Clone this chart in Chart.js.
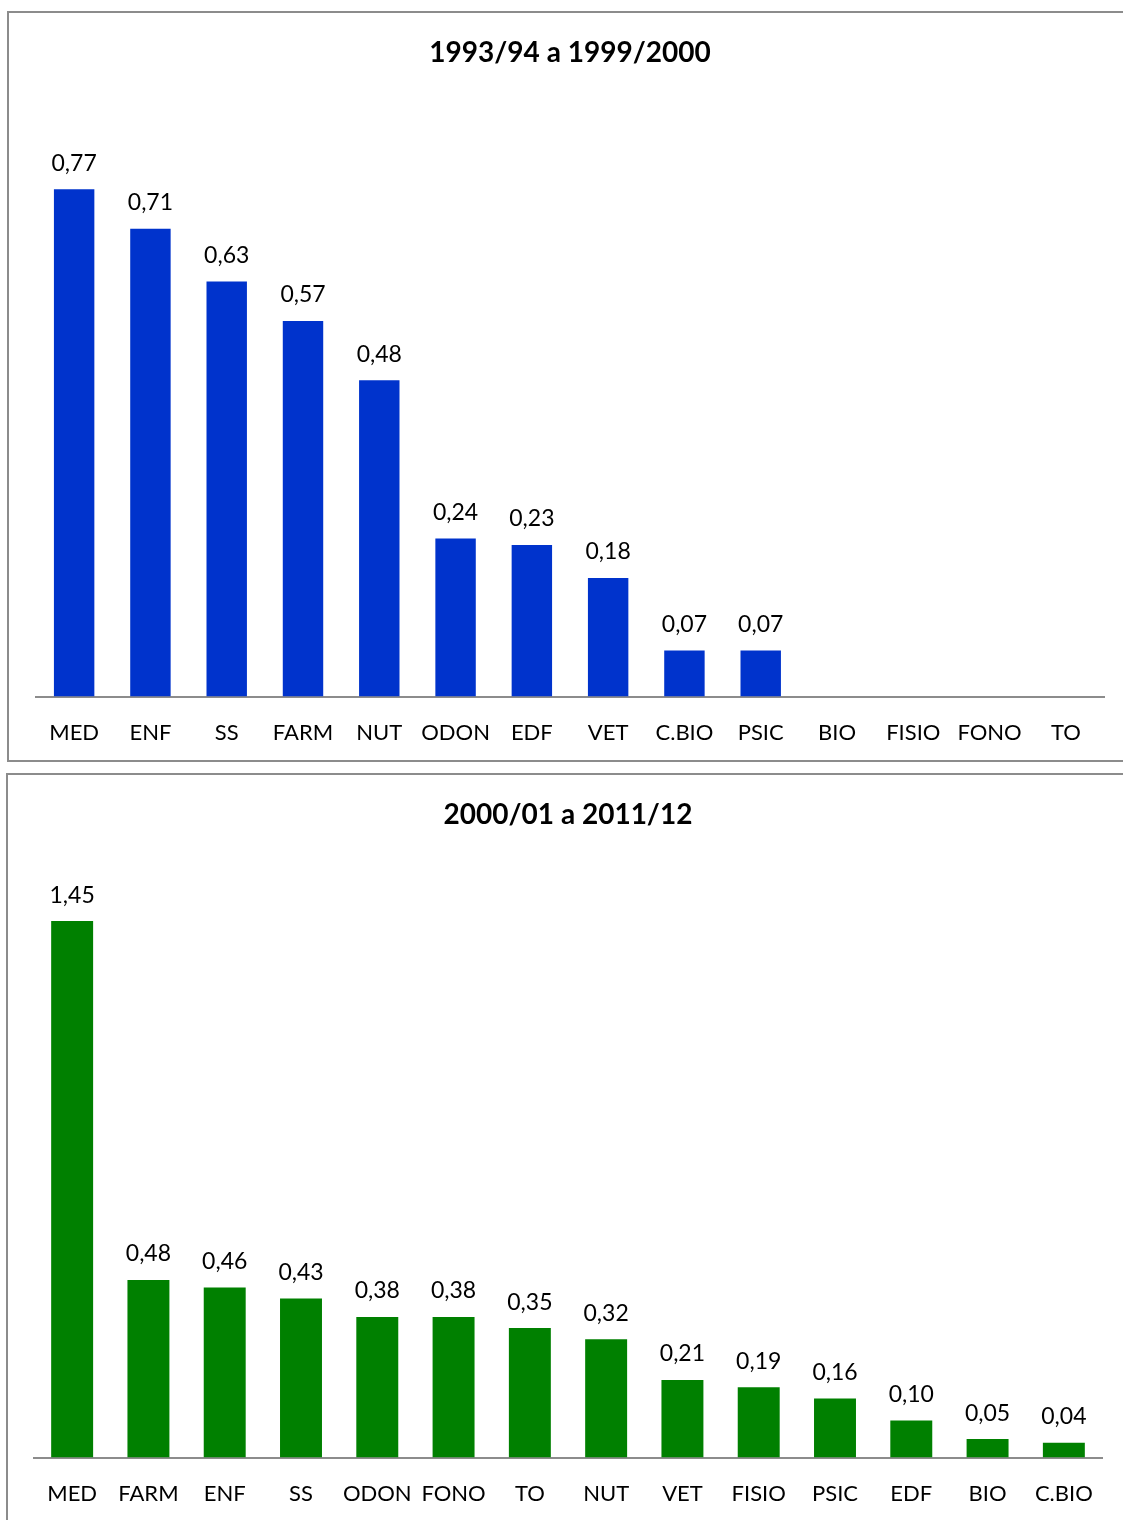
<!DOCTYPE html>
<html>
<head>
<meta charset="utf-8">
<script src="https://cdn.jsdelivr.net/npm/chart.js@4.4.0/dist/chart.umd.min.js"></script>
<style>
    html, body { margin: 0; padding: 0; background: #fff; overflow: hidden; width: 1123px; height: 1520px; }
    .panel { position: absolute; border: 2px solid #8c8c8c; background: #fff; overflow: hidden; }
    #panel-top { left: 7px; top: 11px; width: 1122px; height: 747px; }
    #panel-bottom { left: 6px; top: 773px; width: 1120px; height: 760px; }
    canvas { display: block; }
</style>
</head>
<body>
<div class="panel" id="panel-top"><canvas id="chartTop" width="1122" height="756"></canvas></div>
<div class="panel" id="panel-bottom"><canvas id="chartBottom" width="1120" height="755"></canvas></div>

<script>
// --- DATA ---
const topTitle = '1993/94 a 1999/2000';
const topCategories = ['MED', 'ENF', 'SS', 'FARM', 'NUT', 'ODON', 'EDF', 'VET', 'C.BIO', 'PSIC', 'BIO', 'FISIO', 'FONO', 'TO'];
const topValues = [0.77, 0.71, 0.63, 0.57, 0.48, 0.24, 0.23, 0.18, 0.07, 0.07, null, null, null, null];

const bottomTitle = '2000/01 a 2011/12';
const bottomCategories = ['MED', 'FARM', 'ENF', 'SS', 'ODON', 'FONO', 'TO', 'NUT', 'VET', 'FISIO', 'PSIC', 'EDF', 'BIO', 'C.BIO'];
const bottomValues = [1.45, 0.48, 0.46, 0.43, 0.38, 0.38, 0.35, 0.32, 0.21, 0.19, 0.16, 0.10, 0.05, 0.04];

const FONT = 'Lato, Calibri, "Open Sans", sans-serif';

// Writes each bar's value above it, with a decimal comma
const valueLabels = {
    id: 'valueLabels',
    afterDatasetsDraw(chart) {
        const ctx = chart.ctx;
        const meta = chart.getDatasetMeta(0);
        const values = chart.data.datasets[0].data;
        ctx.save();
        ctx.font = '23px ' + FONT;
        ctx.fillStyle = '#000';
        ctx.textAlign = 'center';
        ctx.textBaseline = 'middle';
        meta.data.forEach((bar, i) => {
            if (values[i] === null) return;
            ctx.fillText(values[i].toFixed(2).replace('.', ','), bar.x, bar.y - 26);
        });
        ctx.restore();
    }
};

function makeChart(canvasId, title, labels, values, color, yMax, barPct, sidePad) {
    return new Chart(document.getElementById(canvasId), {
        type: 'bar',
        data: {
            labels: labels,
            datasets: [{
                data: values,
                backgroundColor: color,
                barPercentage: barPct,
                categoryPercentage: 1
            }]
        },
        options: {
            responsive: false,
            animation: false,
            layout: { padding: { left: sidePad, right: sidePad, top: 0, bottom: 0 } },
            plugins: {
                legend: { display: false },
                tooltip: { enabled: false },
                title: {
                    display: true,
                    text: title,
                    color: '#000',
                    font: { family: FONT, size: 28, weight: 'bold' },
                    padding: { top: 23, bottom: 34 }
                }
            },
            scales: {
                x: {
                    grid: { display: false, drawTicks: false },
                    border: { display: true, color: '#8c8c8c', width: 2 },
                    ticks: { color: '#000', font: { family: FONT, size: 22 }, padding: 23, maxRotation: 0, autoSkip: false }
                },
                y: {
                    display: false,
                    min: 0,
                    max: yMax
                }
            }
        },
        plugins: [valueLabels]
    });
}

// --- INITIALIZE ---
makeChart('chartTop', topTitle, topCategories, topValues, '#0033cc', 0.9, 0.53, 27);
makeChart('chartBottom', bottomTitle, bottomCategories, bottomValues, '#008000', 1.6, 0.55, 26);
</script>
</body>
</html>
